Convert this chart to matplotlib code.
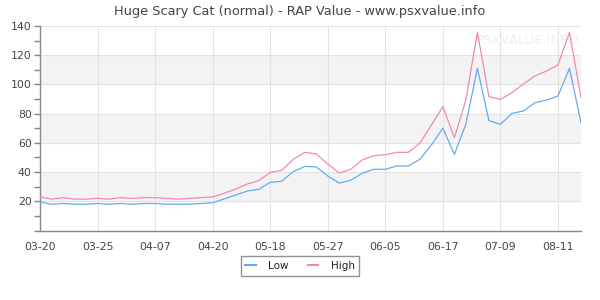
import matplotlib
matplotlib.use("Agg")
import matplotlib.pyplot as plt
from matplotlib.ticker import MultipleLocator

title = "Huge Scary Cat (normal) - RAP Value - www.psxvalue.info"
tick_labels = ["03-20", "03-25", "04-07", "04-20", "05-18", "05-27",
               "06-05", "06-17", "07-09", "08-11"]
low = [19.5, 18, 18.5, 18, 18, 18.5, 18, 18.5, 18, 18.5, 18.5, 18, 18, 18, 18.5, 19,
       21.6, 24.3, 27, 28.2, 33, 33.7, 40.3, 43.9, 43.5, 37.3, 32.5, 34.4, 39.2, 41.9,
       41.9, 44.2, 44.2, 48.7, 58.5, 70, 52.1, 72.9, 111, 75.2, 72.7, 80.2, 81.8, 87.5,
       89.3, 92.1, 111, 73.8]
high = [23, 21.5, 22.5, 21.5, 21.5, 22, 21.5, 22.5, 22, 22.5, 22.5, 22, 21.5, 22, 22.5, 22.9,
        25.5, 28.4, 31.8, 34.1, 39.8, 41.2, 48.7, 53.5, 52.4, 45.5, 39.4, 41.9, 48.3, 51.2,
        51.9, 53.5, 53.5, 59.7, 72.2, 84.8, 63.5, 89.3, 135.7, 91.6, 89.8, 94.3, 100.3, 105.8,
        109.2, 113.3, 135.7, 90.9]

text_c = "#444444"
grid_c = "#e2e2e2"
axis_c = "#888888"

fig = plt.figure(figsize=(6, 3), dpi=100)
ax = fig.add_axes([40/600, 1 - 230.5/300, 541/600, (230.5 - 26)/300])
x = list(range(len(low)))
ax.set_xlim(0, len(low) - 1)
ax.set_ylim(0, 140)

# alternating bands
for b in range(20, 140, 40):
    ax.axhspan(b, b + 20, color="#f3f3f3", zorder=0, lw=0)

ax.yaxis.set_major_locator(MultipleLocator(20))
ax.yaxis.set_minor_locator(MultipleLocator(10))
ax.set_xticks(range(0, len(low), 5))
ax.set_xticklabels(tick_labels)
yt = list(range(0, 141, 20))
ax.set_yticks(yt)
ax.set_yticklabels([""] + [str(v) for v in yt[1:]])
ax.grid(True, which="major", color=grid_c, lw=0.8, zorder=1)
ax.set_axisbelow(True)

ax.plot(x, low, color="#66aaee", lw=0.9, label="Low", zorder=3)
ax.plot(x, high, color="#f088bb", lw=0.9, label="High", zorder=3)

for s in ["top", "right"]:
    ax.spines[s].set_visible(False)
for s in ["left", "bottom"]:
    ax.spines[s].set_color(axis_c)
    ax.spines[s].set_linewidth(1)
ax.tick_params(axis="y", which="both", colors=axis_c, labelcolor=text_c,
               labelsize=7.8, length=4, width=1, pad=2)
ax.tick_params(axis="x", colors=axis_c, labelcolor=text_c, labelsize=7.8,
               length=0, pad=8)

ax.text(0.90, 0.93, "PSXVALUE.INFO", transform=ax.transAxes, ha="center",
        va="center", fontsize=9.5, color="#efefef", zorder=2)

fig.text(0.5, 1 - 12/300, title, ha="center", va="center", fontsize=9.3, color=text_c)

leg = fig.legend(loc="center", bbox_to_anchor=(0.5, 1 - 266/300), ncol=2,
                 fontsize=7.5, frameon=True, fancybox=False, handlelength=1.0,
                 handletextpad=1.2, columnspacing=1.8, borderpad=0.45,
                 labelcolor="#222222")
leg.get_frame().set_edgecolor("#777777")
leg.get_frame().set_linewidth(1)
for l in leg.get_lines():
    l.set_linewidth(1.5)

fig.savefig("out.png", dpi=100)
